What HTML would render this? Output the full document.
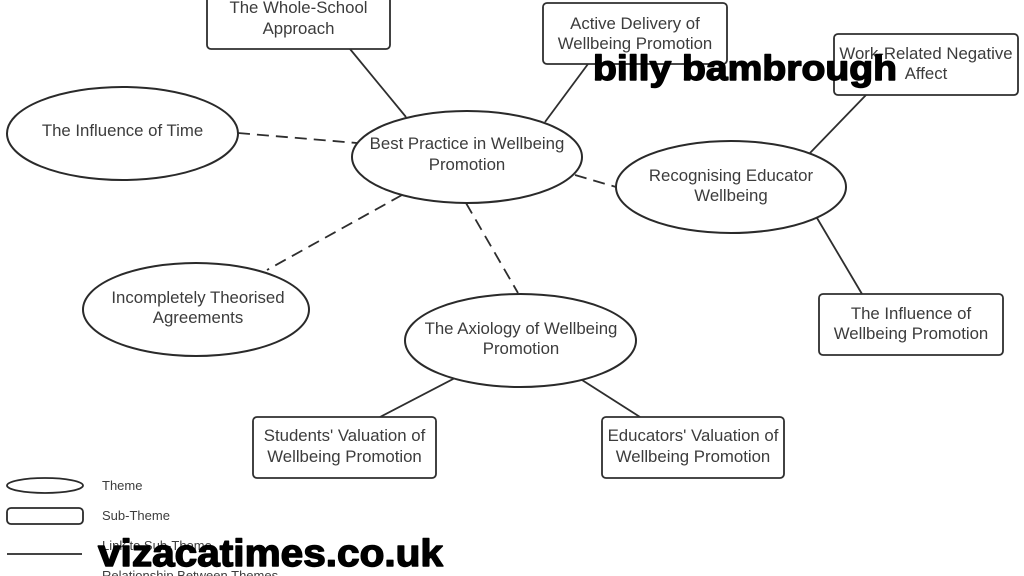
<!DOCTYPE html>
<html>
<head>
<meta charset="utf-8">
<style>
  html, body { margin: 0; padding: 0; background: #ffffff; }
  body { width: 1024px; height: 576px; overflow: hidden; }
  svg { display: block; }
  .t { font-family: "Liberation Sans", Arial, sans-serif; font-size: 16.8px; fill: #3c3c3c; text-anchor: middle; }
  .lg { font-family: "Liberation Sans", Arial, sans-serif; font-size: 13px; fill: #3c3c3c; }
  .wm { font-family: "Liberation Sans", Arial, sans-serif; font-weight: bold; fill: #000; stroke: #000; stroke-width: 1.4; stroke-linejoin: round; }
</style>
</head>
<body>
<svg width="1024" height="576" viewBox="0 0 1024 576" xmlns="http://www.w3.org/2000/svg">
  <rect x="0" y="0" width="1024" height="576" fill="#ffffff"/>

  <!-- solid connectors -->
  <g stroke="#2e2e2e" stroke-width="1.8" fill="none">
    <line x1="350" y1="49" x2="406" y2="117"/>
    <line x1="588" y1="64" x2="545" y2="122"/>
    <line x1="866" y1="95" x2="810" y2="153"/>
    <line x1="817" y1="218" x2="862" y2="294"/>
    <line x1="455" y1="378" x2="380" y2="417"/>
    <line x1="582" y1="380" x2="640" y2="417"/>
  </g>
  <!-- dashed connectors -->
  <g stroke="#2e2e2e" stroke-width="1.8" fill="none" stroke-dasharray="12 7">
    <line x1="238" y1="133" x2="357" y2="143"/>
    <line x1="575" y1="175" x2="616" y2="187"/>
    <line x1="402" y1="195" x2="267" y2="270"/>
    <line x1="466" y1="203" x2="518" y2="293"/>
  </g>

  <!-- boxes -->
  <g stroke="#2e2e2e" stroke-width="1.8" fill="#ffffff">
    <rect x="207" y="-12" width="183" height="61" rx="4"/>
    <rect x="543" y="3" width="184" height="61" rx="4"/>
    <rect x="834" y="34" width="184" height="61" rx="4"/>
    <rect x="819" y="294" width="184" height="61" rx="4"/>
    <rect x="253" y="417" width="183" height="61" rx="4"/>
    <rect x="602" y="417" width="182" height="61" rx="4"/>
  </g>

  <!-- ellipses -->
  <g stroke="#2a2a2a" stroke-width="2" fill="#ffffff">
    <ellipse cx="122.5" cy="133.5" rx="115.5" ry="46.5"/>
    <ellipse cx="467" cy="157" rx="115" ry="46"/>
    <ellipse cx="731" cy="187" rx="115" ry="46"/>
    <ellipse cx="196" cy="309.5" rx="113" ry="46.5"/>
    <ellipse cx="520.5" cy="340.5" rx="115.5" ry="46.5"/>
  </g>

  <!-- box text -->
  <text class="t" x="298.5" y="13">The Whole-School</text>
  <text class="t" x="298.5" y="34">Approach</text>

  <text class="t" x="635" y="29">Active Delivery of</text>
  <text class="t" x="635" y="49">Wellbeing Promotion</text>

  <text class="t" x="926" y="59">Work-Related Negative</text>
  <text class="t" x="926" y="79">Affect</text>

  <text class="t" x="911" y="319">The Influence of</text>
  <text class="t" x="911" y="339">Wellbeing Promotion</text>

  <text class="t" x="344.5" y="441">Students' Valuation of</text>
  <text class="t" x="344.5" y="462">Wellbeing Promotion</text>

  <text class="t" x="693" y="441">Educators' Valuation of</text>
  <text class="t" x="693" y="462">Wellbeing Promotion</text>

  <!-- ellipse text -->
  <text class="t" x="122.5" y="136">The Influence of Time</text>

  <text class="t" x="467" y="149">Best Practice in Wellbeing</text>
  <text class="t" x="467" y="170">Promotion</text>

  <text class="t" x="731" y="181">Recognising Educator</text>
  <text class="t" x="731" y="201">Wellbeing</text>

  <text class="t" x="198" y="303">Incompletely Theorised</text>
  <text class="t" x="198" y="323">Agreements</text>

  <text class="t" x="521" y="334">The Axiology of Wellbeing</text>
  <text class="t" x="521" y="354">Promotion</text>

  <!-- legend -->
  <ellipse cx="45" cy="485.5" rx="38" ry="7.5" stroke="#2a2a2a" stroke-width="1.8" fill="#ffffff"/>
  <text class="lg" x="102" y="490">Theme</text>
  <rect x="7" y="508" width="76" height="16" rx="4" stroke="#2a2a2a" stroke-width="1.8" fill="#ffffff"/>
  <text class="lg" x="102" y="520">Sub-Theme</text>
  <line x1="7" y1="554" x2="82" y2="554" stroke="#2a2a2a" stroke-width="1.8"/>
  <text class="lg" x="102" y="550">Link to Sub-Theme</text>
  <text class="lg" x="102" y="580">Relationship Between Themes</text>

  <!-- watermarks -->
  <text class="wm" x="593" y="80" font-size="35" textLength="304" lengthAdjust="spacingAndGlyphs">billy bambrough</text>
  <text class="wm" x="98" y="566" font-size="38" textLength="345" lengthAdjust="spacingAndGlyphs">vizacatimes.co.uk</text>
</svg>
</body>
</html>
